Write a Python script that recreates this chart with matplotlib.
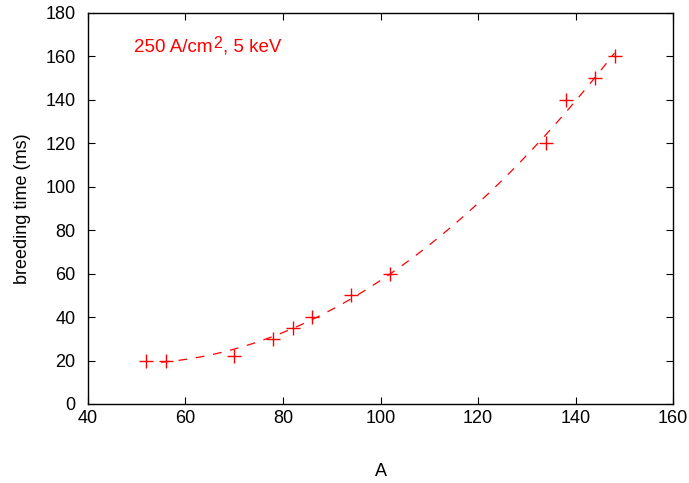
import numpy as np
import matplotlib.pyplot as plt
from matplotlib.transforms import offset_copy

plt.rcParams['font.family'] = ['Liberation Sans', 'DejaVu Sans']

# measured points
mass = [52, 56, 70, 78, 82, 86, 94, 102, 134, 138, 144, 148]
breeding = [20, 20, 22, 30, 35, 40, 50, 60, 120, 140, 150, 160]

# quadratic fit through the points, drawn over the measured range
coef = np.polyfit(mass, breeding, 2)
xfit = np.linspace(55, 148, 200)
yfit = np.polyval(coef, xfit)

fig = plt.figure(figsize=(6.89, 4.83), dpi=100)
ax = fig.add_axes([0.1277, 0.1636, 0.8491, 0.8095])

ax.plot(xfit, yfit, color='red', linestyle=(0, (7, 7)), linewidth=0.9)
ax.plot(mass, breeding, linestyle='none', marker='+', markersize=10,
        markeredgewidth=1.0, color='red')

ax.set_xlim(40, 160)
ax.set_ylim(0, 180)
ax.set_xticks(range(40, 161, 20))
ax.set_yticks(range(0, 181, 20))
ax.tick_params(direction='in', top=True, right=True, length=5, labelsize=13)
ax.tick_params(axis='x', pad=4)
ax.tick_params(axis='y', pad=9)
for s in ax.spines.values():
    s.set_linewidth(1.0)

ax.set_xlabel('A', fontsize=13, labelpad=26)
ax.set_ylabel('breeding time (ms)', fontsize=13, labelpad=10)

# label "250 A/cm2, 5 keV" built in pieces so the 2 stays large
fs = 13.5
t1 = ax.text(0.079, 0.913, '250 A/cm', transform=ax.transAxes,
             color='red', fontsize=fs, va='center', ha='left')
fig.canvas.draw()
w1 = t1.get_window_extent().width * 72 / fig.dpi
t2 = ax.text(0.079, 0.913, '2', color='red', fontsize=fs * 0.85,
             va='center', ha='left',
             transform=offset_copy(ax.transAxes, fig=fig, x=w1 + 0.5, y=2.5, units='points'))
fig.canvas.draw()
w2 = t2.get_window_extent().width * 72 / fig.dpi
ax.text(0.079, 0.913, ', 5 keV', color='red', fontsize=fs, va='center', ha='left',
        transform=offset_copy(ax.transAxes, fig=fig, x=w1 + w2 + 1, y=0, units='points'))

fig.savefig('out.png', dpi=100)
